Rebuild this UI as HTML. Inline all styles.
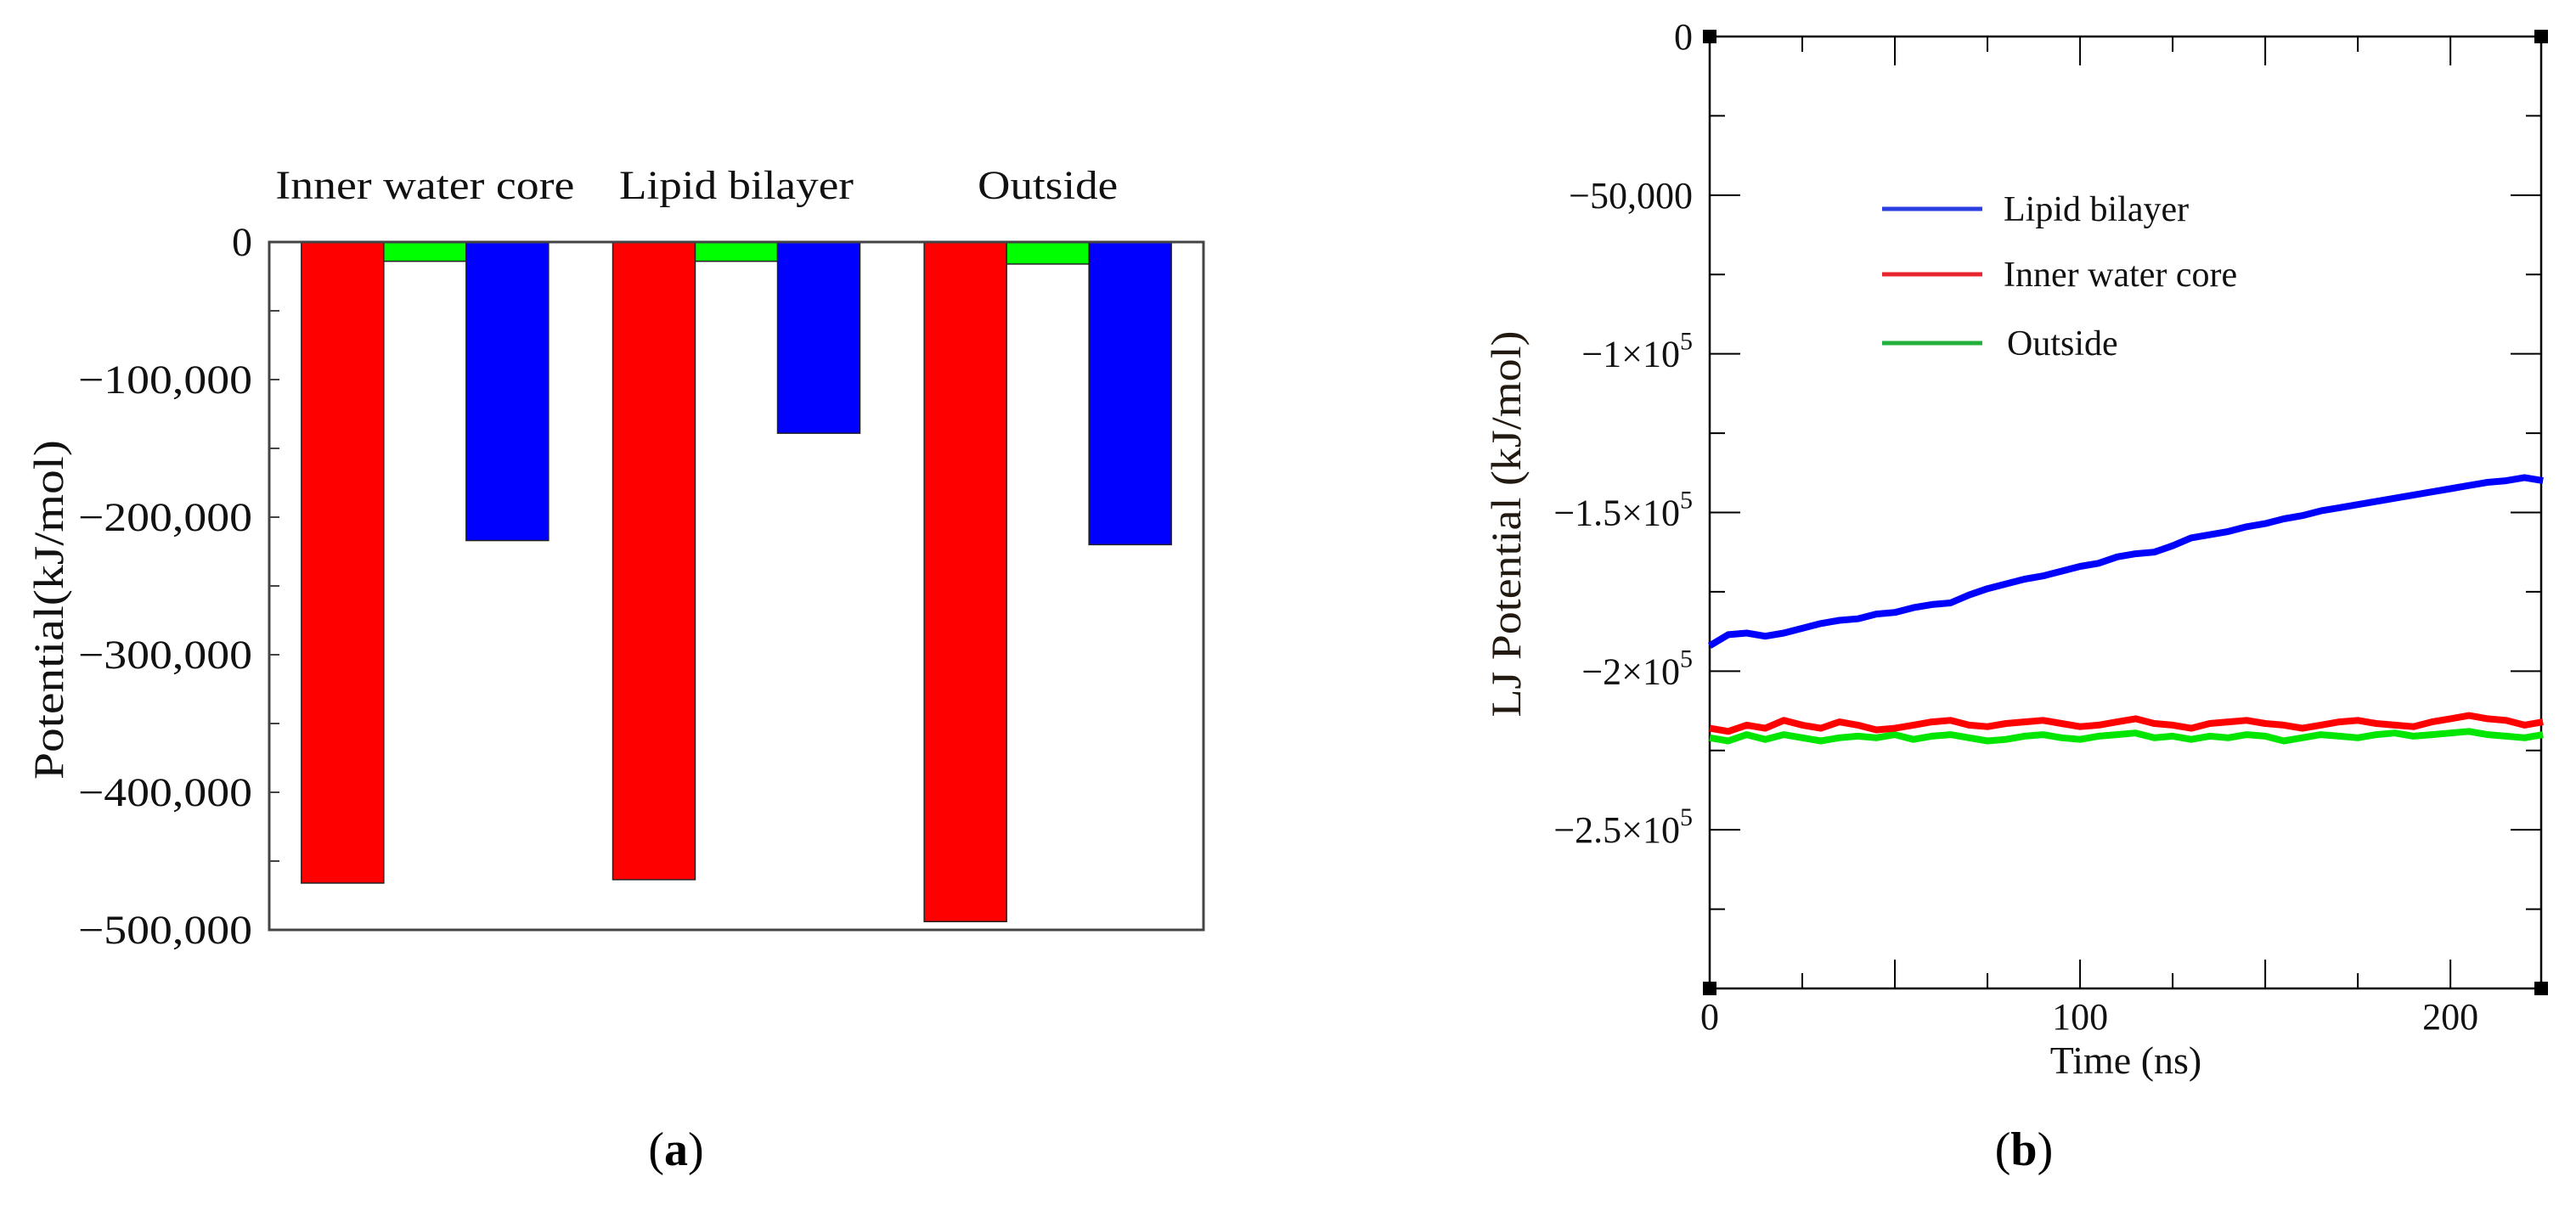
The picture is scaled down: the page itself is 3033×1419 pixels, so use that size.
<!DOCTYPE html>
<html><head><meta charset="utf-8"><style>
html,body{margin:0;padding:0;background:#fff;}
svg{display:block;font-family:"Liberation Serif",serif;}
</style></head><body>
<svg id="fig" width="3033" height="1419" viewBox="0 0 3033 1419" xmlns="http://www.w3.org/2000/svg">
<g id="chartA"></g>
<g id="chartB"></g>
<text x="796" y="1372" font-size="56" text-anchor="middle">(<tspan font-weight="bold">a</tspan>)</text>
<text x="2383" y="1372" font-size="56" text-anchor="middle">(<tspan font-weight="bold">b</tspan>)</text>
</svg>
<script>
// ---- Chart A data ----
const catsA = ["Inner water core", "Lipid bilayer", "Outside"];
const redVals = [-466000, -463500, -494000];
const greenVals = [-14000, -14000, -16000];
const blueVals = [-217000, -139000, -220000];
const yTicksA = [0, -100000, -200000, -300000, -400000, -500000];
const yTickLabelsA = ["0", "\u2212100,000", "\u2212200,000", "\u2212300,000", "\u2212400,000", "\u2212500,000"];

// ---- Chart B data ----
const timesB = [0,5,10,15,20,25,30,35,40,45,50,55,60,65,70,75,80,85,90,95,100,105,110,115,120,125,130,135,140,145,150,155,160,165,170,175,180,185,190,195,200,205,210,215,220,225];
const lipidB = [-192,-188.5,-188,-189,-188,-186.5,-185,-184,-183.5,-182,-181.5,-180,-179,-178.5,-176,-174,-172.5,-171,-170,-168.5,-167,-166,-164,-163,-162.5,-160.5,-158,-157,-156,-154.5,-153.5,-152,-151,-149.5,-148.5,-147.5,-146.5,-145.5,-144.5,-143.5,-142.5,-141.5,-140.5,-140,-139,-140];
const innerB = [-218,-219,-217,-218,-215.5,-217,-218,-216,-217,-218.5,-218,-217,-216,-215.5,-217,-217.5,-216.5,-216,-215.5,-216.5,-217.5,-217,-216,-215,-216.5,-217,-218,-216.5,-216,-215.5,-216.5,-217,-218,-217,-216,-215.5,-216.5,-217,-217.5,-216,-215,-214,-215,-215.5,-217,-216];
const outsideB = [-221,-222,-220,-221.5,-220,-221,-222,-221,-220.5,-221,-220,-221.5,-220.5,-220,-221,-222,-221.5,-220.5,-220,-221,-221.5,-220.5,-220,-219.5,-221,-220.5,-221.5,-220.5,-221,-220,-220.5,-222,-221,-220,-220.5,-221,-220,-219.5,-220.5,-220,-219.5,-219,-220,-220.5,-221,-220];
const yTicksB = [0, -50000, -100000, -150000, -200000, -250000];
const yTickLabelsB = [["0",""],["\u221250,000",""],["\u22121\u00d710","5"],["\u22121.5\u00d710","5"],["\u22122\u00d710","5"],["\u22122.5\u00d710","5"]];
const xTicksB = [0, 100, 200];
const legendNames = ["Lipid bilayer", "Inner water core", "Outside"];

const NS = "http://www.w3.org/2000/svg";
function mk(parent, tag, attrs){ const e=document.createElementNS(NS,tag); for(const k in attrs) e.setAttribute(k,attrs[k]); parent.appendChild(e); return e; }

// ===== Chart A =====
const A = document.getElementById('chartA');
const aL=317, aR=1417, aT=285, aB=1095;
const yA = v => aT + (0 - v) / 500000 * (aB - aT);
const band = (aR - aL) / catsA.length;
const bw = 97;
const catW = [352, 276, 165];
catsA.forEach((c,i)=>{
  const cx = aL + band*(i+0.5);
  const t = mk(A,'text',{x:cx,y:234,'font-size':48,'text-anchor':'middle',textLength:catW[i],lengthAdjust:'spacingAndGlyphs',fill:'#111'});
  t.textContent = c;
  
  
  const series = [[redVals,'#ff0000','red'],[greenVals,'#00ff00','green'],[blueVals,'#0000ff','blue']];
  series.forEach((s,j)=>{
    const x = cx - 1.5*bw + j*bw;
    const v = s[0][i];
    const r = mk(A,'rect',{x:x,y:yA(0),width:bw,height:yA(v)-yA(0),fill:s[1],stroke:'#222','stroke-width':1.5});
    
    
  });
});
mk(A,'rect',{x:aL,y:aT,width:aR-aL,height:aB-aT,fill:'none',stroke:'#444','stroke-width':3});
for(let v=0; v>=-500000; v-=50000){
  const tk = mk(A,'line',{x1:aL,x2:aL+12,y1:yA(v),y2:yA(v),stroke:'#444','stroke-width':2});
  
  
}
yTicksA.forEach((v,i)=>{
  const attrs = {x:297,y:yA(v)+16,'font-size':48,'text-anchor':'end',fill:'#111'};
  if(i>0){attrs.textLength=205; attrs.lengthAdjust='spacingAndGlyphs';}
  const t = mk(A,'text',attrs);
  t.textContent = yTickLabelsA[i];
  
  
});
const ytA = mk(A,'text',{x:0,y:0,'font-size':50,'text-anchor':'middle',transform:'translate(74,718) rotate(-90)',textLength:400,lengthAdjust:'spacingAndGlyphs',fill:'#111'});
ytA.textContent = 'Potential(kJ/mol)';



// ===== Chart B =====
const B = document.getElementById('chartB');
const bL=2013, bR=2992, bT=43, bB=1164;
const xB = t => bL + t/224.5*(bR-bL);
const yB = v => bT + (0 - v)/300000*(bB-bT);
mk(B,'rect',{x:bL,y:bT,width:bR-bL,height:bB-bT,fill:'none',stroke:'#000','stroke-width':2.5});
for(let v=-25000; v>-300000; v-=25000){
  const major = (v % 50000)===0;
  const len = major?36:18;
  const l1 = mk(B,'line',{x1:bL,x2:bL+len,y1:yB(v),y2:yB(v),stroke:'#000','stroke-width':2});
  
  
  const l2 = mk(B,'line',{x1:bR-len,x2:bR,y1:yB(v),y2:yB(v),stroke:'#000','stroke-width':2});
  
  
}
for(let t=25; t<224; t+=25){
  const major = (t % 50)===0;
  const len = major?34:18;
  const l1 = mk(B,'line',{x1:xB(t),x2:xB(t),y1:bT,y2:bT+len,stroke:'#000','stroke-width':2});
  
  
  const l2 = mk(B,'line',{x1:xB(t),x2:xB(t),y1:bB-len,y2:bB,stroke:'#000','stroke-width':2});
  
  
}
[[bL,bT],[bR,bT],[bL,bB],[bR,bB]].forEach(p=>{
  const c = mk(B,'rect',{x:p[0]-8,y:p[1]-8,width:16,height:16,fill:'#000'});
  
  
});
function series(vals, color, name){
  const pts = timesB.map((t,i)=>xB(t).toFixed(1)+','+yB(vals[i]*1000).toFixed(1)).join(' ');
  const p = mk(B,'polyline',{points:pts,fill:'none',stroke:color,'stroke-width':8,'stroke-linejoin':'round'});
  
  
}
series(outsideB,'#00e600','line-outside');
series(innerB,'#ff0000','line-inner-water-core');
series(lipidB,'#0000ff','line-lipid-bilayer');
yTicksB.forEach((v,i)=>{
  const t = mk(B,'text',{x:1993,y:yB(v)+15,'font-size':44,'text-anchor':'end',fill:'#111'});
  t.textContent = yTickLabelsB[i][0];
  if(yTickLabelsB[i][1]){
    const s = mk(t,'tspan',{'font-size':30,dy:-20});
    s.textContent = yTickLabelsB[i][1];
  }
  
  
});
xTicksB.forEach(v=>{
  const t = mk(B,'text',{x:xB(v),y:1212,'font-size':44,'text-anchor':'middle',fill:'#111'});
  t.textContent = String(v);
  
  
});
const xt = mk(B,'text',{x:2503,y:1264,'font-size':46,'text-anchor':'middle',fill:'#111'});
xt.textContent = 'Time (ns)';


const ytB = mk(B,'text',{x:0,y:0,'font-size':50,'text-anchor':'middle',transform:'translate(1790,617) rotate(-90)',textLength:455,lengthAdjust:'spacingAndGlyphs',fill:'#221a10'});
ytB.textContent = 'LJ Potential (kJ/mol)';


const legColors = ['#2b3fe0','#e8242c','#22b03c'];
const legY = [246, 323, 404];
legendNames.forEach((n,i)=>{
  const l = mk(B,'line',{x1:2216,x2:2334,y1:legY[i],y2:legY[i],stroke:legColors[i],'stroke-width':5});
  
  
  const t = mk(B,'text',{x:i===2?2363:2359,y:legY[i]+14,'font-size':42,fill:'#111'});
  t.textContent = n;
  
  
});
</script>
</body></html>
